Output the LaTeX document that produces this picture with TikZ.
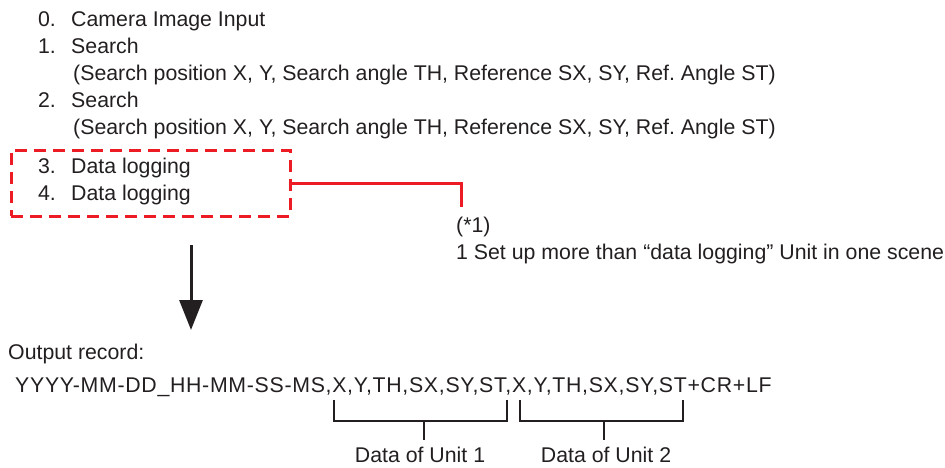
\documentclass[tikz,border=0pt]{standalone}
\usepackage{fontspec}
\setmainfont{Liberation Sans}
\newfontfamily\recfont[LetterSpace=3.3]{Liberation Sans}
\usepackage{xcolor}
\definecolor{cText}{HTML}{231F20}
\definecolor{cRed}{HTML}{ED1C24}
\usetikzlibrary{positioning,arrows.meta}
\frenchspacing
\tikzset{
  item-text/.style={inner sep=0pt,text height=15pt,text depth=5pt,
    font=\fontsize{21.3}{25.6}\selectfont,text=cText},
  item-line/.style={item-text,anchor=base west},
  log-box/.style={draw=cRed,line width=3pt,dash pattern=on 12pt off 7pt,
    minimum width=279pt,minimum height=66pt,inner sep=0pt},
  line-note/.style={draw=cRed,line width=3pt},
  arrow-down/.style={-{Triangle[length=30pt,width=23pt]},line width=3pt,draw=cText},
  bracket/.style={draw=cText,line width=2.2pt},
}
\begin{document}
\begin{tikzpicture}[x=1pt,y=-1pt,node distance=7pt and 15pt]
  \useasboundingbox (0,0) rectangle (945,467);
  % scene list
  \node[item-line] (s0) at (71,26)  {Camera Image Input};
  \node[item-line] (s1) at (71,53)  {Search};
  \node[item-line] (p1) at (73,80)  {(Search position X, Y, Search angle TH, Reference SX, SY, Ref. Angle ST)};
  \node[item-line] (s2) at (71,107) {Search};
  \node[item-line] (p2) at (73,134) {(Search position X, Y, Search angle TH, Reference SX, SY, Ref. Angle ST)};
  \node[item-line] (s3) at (71,173) {Data logging};
  \node[item-line] (s4) at (71,200) {Data logging};
  \node[item-text,left=of s0] (n0) {0.};
  \node[item-text,left=of s1] (n1) {1.};
  \node[item-text,left=of s2] (n2) {2.};
  \node[item-text,left=of s3] (n3) {3.};
  \node[item-text,left=of s4] (n4) {4.};
  % logging units + note
  \node[log-box] (logbox) at (150.5,183) {};
  \coordinate (noteTop) at (461,207);
  \draw[line-note] (logbox.east) -| (noteTop);
  \node[item-line] (note) at (456,232) {(*1)};
  \node[item-line] (noteText) at (456,259) {1 Set up more than “data logging” Unit in one scene};
  \coordinate (arrTop) at (191,245);
  \coordinate (arrTip) at (191,330);
  \draw[arrow-down] (arrTop) -- (arrTip);
  % output record
  \node[item-line] (outHead) at (8,359) {Output record:};
  \node[item-line] (rec) at (15,392) {\recfont YYYY-MM-DD\_HH-MM-SS-MS,X,Y,TH,SX,SY,ST,X,Y,TH,SX,SY,ST+CR+LF};
  \coordinate (u1a) at (334,400);
  \coordinate (u1b) at (507,400);
  \coordinate (u2a) at (520,400);
  \coordinate (u2b) at (683,400);
  \coordinate (u1s) at (424,421);
  \coordinate (u2s) at (604,421);
  \draw[bracket] (u1a) -- ++(0,21) -| (u1b);
  \draw[bracket] (u2a) -- ++(0,21) -| (u2b);
  \node[item-text,anchor=base] (u1lbl) at (420,462) {Data of Unit 1};
  \node[item-text,anchor=base] (u2lbl) at (606,462) {Data of Unit 2};
  \draw[bracket] (u1s) -- ++(0,19);
  \draw[bracket] (u2s) -- ++(0,19);
\end{tikzpicture}
\end{document}
